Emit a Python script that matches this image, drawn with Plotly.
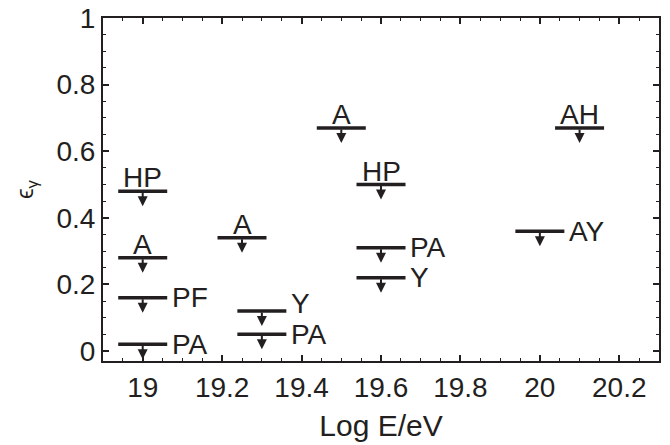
import plotly.graph_objects as go

# upper limits on photon fraction, per experiment
log_e = [19.0, 19.0, 19.0, 19.0, 19.25, 19.3, 19.3, 19.5, 19.6, 19.6, 19.6, 20.0, 20.1]
eps_limit = [0.48, 0.28, 0.16, 0.02, 0.34, 0.12, 0.05, 0.67, 0.50, 0.31, 0.22, 0.36, 0.67]
labels = ["HP", "A", "PF", "PA", "A", "Y", "PA", "A", "HP", "PA", "Y", "AY", "AH"]
label_side = ["above", "above", "right", "right", "above", "right-up", "right",
              "above", "above", "right", "right", "right", "above"]

x_ticks = [19, 19.2, 19.4, 19.6, 19.8, 20, 20.2]
y_ticks = [0, 0.2, 0.4, 0.6, 0.8, 1]

FONT = "Liberation Sans, Arial, Helvetica, sans-serif"
INK = "#231f20"

fig = go.Figure()

# the horizontal bar of each limit
fig.add_trace(go.Scatter(
    x=log_e, y=eps_limit, mode="markers",
    marker=dict(symbol="line-ew", size=35, line=dict(width=3.5, color=INK)),
    hoverinfo="skip", showlegend=False,
))

annotations = []
for x, y, txt, side in zip(log_e, eps_limit, labels, label_side):
    # downward arrow under the bar
    annotations.append(dict(
        x=x, y=y, xref="x", yref="y", text="", showarrow=True,
        ax=0, ay=-15, yshift=-15, arrowhead=2, arrowsize=1.0,
        arrowwidth=2, arrowcolor=INK,
    ))
    if side == "above":
        annotations.append(dict(
            x=x, y=y, xref="x", yref="y", text=txt, showarrow=False,
            xanchor="center", yanchor="bottom", yshift=-4,
            font=dict(family=FONT, size=28, color=INK),
        ))
    else:
        annotations.append(dict(
            x=x, y=y, xref="x", yref="y", text=txt, showarrow=False,
            xanchor="left", yanchor="middle", xshift=27,
            yshift=8 if side == "right-up" else 0,
            font=dict(family=FONT, size=28, color=INK),
        ))

axis_common = dict(
    showline=True, linecolor=INK, linewidth=2, mirror="ticks",
    ticks="inside", ticklen=6, tickwidth=1.5, tickcolor=INK,
    showgrid=False, zeroline=False, automargin=False,
    tickfont=dict(family=FONT, size=28, color=INK),
    minor=dict(ticks="inside", ticklen=3, tickwidth=1, tickcolor=INK, dtick=0.05),
)

fig.update_layout(
    width=670, height=445,
    margin=dict(l=103, r=11, t=18, b=84),
    paper_bgcolor="white", plot_bgcolor="white",
    annotations=annotations,
    xaxis=dict(
        range=[18.9, 20.3], tickvals=x_ticks,
        ticktext=[f"{v:g}" for v in x_ticks],
        title=dict(text="Log E/eV", font=dict(family=FONT, size=30, color=INK), standoff=13),
        **axis_common,
    ),
    yaxis=dict(
        range=[-0.03, 1.0], tickvals=y_ticks,
        ticktext=[f"{v:g}" for v in y_ticks],
        title=dict(text="ϵ<sub>γ</sub>", font=dict(family=FONT, size=24, color=INK), standoff=16),
        **axis_common,
    ),
)

fig.write_html("out.html", config={"displayModeBar": False},
               post_script="document.body.style.margin='0';")
